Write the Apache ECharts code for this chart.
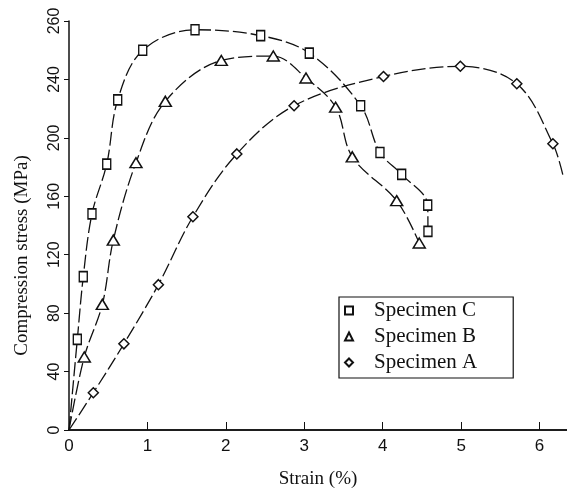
<!DOCTYPE html>
<html>
<head>
<meta charset="utf-8">
<script src="https://cdn.jsdelivr.net/npm/echarts@6/dist/echarts.min.js"></script>
<style>
  html, body { margin: 0; padding: 0; background: #fff; }
  #main { width: 567px; height: 494px; }
</style>
</head>
<body>
<div id="main"></div>
<script>
// values: strain (%) / compression stress (MPa)
const names = ['Specimen C', 'Specimen B', 'Specimen A'];
const symbols = ['rect', 'triangle', 'diamond'];

const strainC = [0.106, 0.182, 0.293, 0.481, 0.621, 0.94, 1.607, 2.444, 3.064, 3.719, 3.965, 4.242, 4.574, 4.577];
const stressC = [62, 105, 148, 182, 226, 260, 274, 270, 258, 222, 190, 175, 154, 136];

const strainB = [0.195, 0.425, 0.565, 0.854, 1.228, 1.942, 2.605, 3.022, 3.40, 3.612, 4.178, 4.466];
const stressB = [50, 86, 130, 183, 225, 253, 256, 241, 221, 187, 157, 128];

const strainA = [0.31, 0.70, 1.14, 1.58, 2.14, 2.87, 4.01, 4.99, 5.71, 6.17];
const stressA = [25.5, 59, 99.5, 146, 189, 222, 242, 249, 237, 196];

// curves start at the origin, A's curve runs on past its last marker
const origin = [0, 0];
const tailA = [6.30, 174];

const yTicks = [0, 40, 80, 120, 160, 200, 240, 280];
const yTickLabels = ['0', '40', '80', '120', '160', '200', '240', '260'];

const chart = echarts.init(document.getElementById('main'));

function pairs(xs, ys) {
    return xs.map((x, i) => [x, ys[i]]);
}

const markers = [pairs(strainC, stressC), pairs(strainB, stressB), pairs(strainA, stressA)];
const curves = [
    [origin].concat(markers[0]),
    [origin].concat(markers[1]),
    [origin].concat(markers[2], [tailA])
];
const symbolSizes = [[8, 10], [12, 10], 10];

const series = [];
names.forEach((name, i) => {
    series.push({
        name: name + ' curve',
        type: 'line',
        data: curves[i],
        smooth: 0.35,
        showSymbol: false,
        silent: true,
        lineStyle: { color: '#111', width: 1.3, type: [14, 4] },
        z: 1
    });
});
names.forEach((name, i) => {
    series.push({
        name: name,
        type: 'scatter',
        data: markers[i],
        symbol: symbols[i],
        symbolSize: symbolSizes[i],
        itemStyle: { color: '#fff', borderColor: '#111', borderWidth: 1.5, opacity: 1 },
        z: 3
    });
});

const serif = '"Liberation Serif", "DejaVu Serif", serif';
const sans = '"Liberation Sans", Arial, sans-serif';

const option = {
    backgroundColor: '#fff',
    animation: false,
    grid: { left: 69, top: 21, right: 0, bottom: 64 },
    legend: {
        data: names,
        orient: 'vertical',
        left: 339,
        top: 297,
        itemWidth: 8,
        itemHeight: 8,
        itemGap: 5,
        padding: [3, 36, 5, 5],
        borderColor: '#111',
        borderWidth: 1.2,
        backgroundColor: '#fff',
        textStyle: { fontFamily: serif, fontSize: 21, lineHeight: 21, color: '#111', padding: [0, 0, 0, 16] }
    },
    xAxis: [{
        type: 'value',
        min: 0,
        max: 6.35,
        interval: 1,
        name: 'Strain (%)',
        nameLocation: 'middle',
        nameGap: 40,
        nameTextStyle: { fontFamily: serif, fontSize: 19, color: '#111' },
        axisLine: { onZero: false, lineStyle: { color: '#111', width: 1.5 } },
        axisTick: { inside: true, length: 8, lineStyle: { color: '#111' } },
        axisLabel: {
            fontFamily: sans, fontSize: 17, color: '#111', margin: 8,
            showMaxLabel: false
        },
        splitLine: { show: false }
    }, {
        // top frame line
        type: 'value',
        position: 'top',
        min: 0,
        max: 6.35,
        axisLine: { show: true, lineStyle: { color: '#111', width: 1.5 } },
        axisTick: { show: false },
        axisLabel: { show: false },
        splitLine: { show: false }
    }],
    yAxis: {
        type: 'value',
        min: 0,
        max: 280,
        interval: 40,
        name: 'Compression stress (MPa)',
        nameLocation: 'middle',
        nameGap: 37,
        nameTextStyle: { fontFamily: serif, fontSize: 19, color: '#111', padding: [0, 60, 0, 0] },
        axisLine: { show: true, lineStyle: { color: '#111', width: 1.5 } },
        axisTick: { show: true, length: 5, lineStyle: { color: '#111' } },
        axisLabel: {
            rotate: 90,
            fontFamily: sans, fontSize: 16, color: '#111', margin: 6,
            formatter: v => yTickLabels[yTicks.indexOf(v)]
        },
        splitLine: { show: false }
    },
    series: series
};

chart.setOption(option);
</script>
</body>
</html>
